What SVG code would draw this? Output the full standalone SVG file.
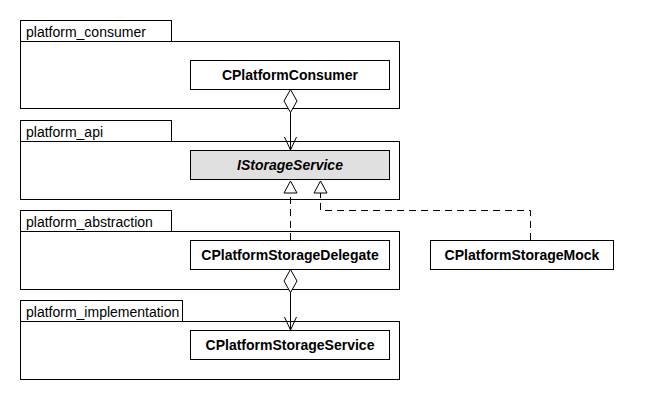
<svg xmlns="http://www.w3.org/2000/svg" width="650" height="400" viewBox="0 0 650 400">
<style>
.pkg{fill:#ffffff;stroke:#000000;stroke-width:1}
.cls{fill:#ffffff;stroke:#000000;stroke-width:1}
.iface{fill:#e0e0e0;stroke:#000000;stroke-width:1}
.plbl{font-family:"Liberation Sans",Arial,sans-serif;font-size:14px;fill:#000000}
.clbl{font-family:"Liberation Sans",Arial,sans-serif;font-size:14px;font-weight:bold;fill:#000000;text-anchor:middle}
.ilbl{font-style:italic}
.line{fill:none;stroke:#000000;stroke-width:1}
.dash{fill:none;stroke:#000000;stroke-width:1;stroke-dasharray:7,5}
.dia{fill:#ffffff;stroke:#000000;stroke-width:1}
.tri{fill:#ffffff;stroke:#000000;stroke-width:1}
</style>
<rect width="650" height="400" fill="#ffffff"/>
<g id="platform_consumer">
<rect class="pkg" x="20.5" y="20.5" width="151" height="21"/>
<rect class="pkg" x="20.5" y="41.5" width="379" height="67"/>
<text class="plbl" x="26" y="37">platform_consumer</text>
</g>
<g id="platform_api">
<rect class="pkg" x="20.5" y="120.5" width="151" height="21"/>
<rect class="pkg" x="20.5" y="141.5" width="379" height="58"/>
<text class="plbl" x="26" y="137">platform_api</text>
</g>
<g id="platform_abstraction">
<rect class="pkg" x="20.5" y="210.5" width="151" height="21"/>
<rect class="pkg" x="20.5" y="231.5" width="379" height="58"/>
<text class="plbl" x="26" y="227">platform_abstraction</text>
</g>
<g id="platform_implementation">
<rect class="pkg" x="20.5" y="300.5" width="162" height="21"/>
<rect class="pkg" x="20.5" y="321.5" width="379" height="58"/>
<text class="plbl" x="26" y="317">platform_implementation</text>
</g>
<g id="CPlatformConsumer">
<rect class="cls" x="190.5" y="60.5" width="199" height="29"/>
<text class="clbl" x="290" y="80">CPlatformConsumer</text>
</g>
<g id="IStorageService">
<rect class="iface" x="190.5" y="150.5" width="199" height="29"/>
<text class="clbl ilbl" x="290" y="170">IStorageService</text>
</g>
<g id="CPlatformStorageDelegate">
<rect class="cls" x="190.5" y="240.5" width="199" height="29"/>
<text class="clbl" x="290" y="260">CPlatformStorageDelegate</text>
</g>
<g id="CPlatformStorageService">
<rect class="cls" x="190.5" y="330.5" width="199" height="29"/>
<text class="clbl" x="290" y="350">CPlatformStorageService</text>
</g>
<g id="CPlatformStorageMock">
<rect class="cls" x="430.5" y="240.5" width="183" height="29"/>
<text class="clbl" x="522" y="260">CPlatformStorageMock</text>
</g>
<g id="connectors">
<line class="line" x1="290.5" y1="112.5" x2="290.5" y2="150"/>
<polygon class="dia" points="290.5,89.5 297,101 290.5,112.5 284,101"/>
<polyline class="line" points="284.5,137 290.5,150 296.5,137"/>
<line class="line" x1="290.5" y1="292.5" x2="290.5" y2="330"/>
<polygon class="dia" points="290.5,269.5 297,281 290.5,292.5 284,281"/>
<polyline class="line" points="284.5,317 290.5,330 296.5,317"/>
<line class="dash" x1="290.5" y1="240" x2="290.5" y2="193"/>
<polygon class="tri" points="290.5,181 297,193 284,193"/>
<polyline class="dash" points="530.5,240 530.5,210.5 320.5,210.5 320.5,193"/>
<polygon class="tri" points="320.5,181 327,193 314,193"/>
</g>
</svg>
